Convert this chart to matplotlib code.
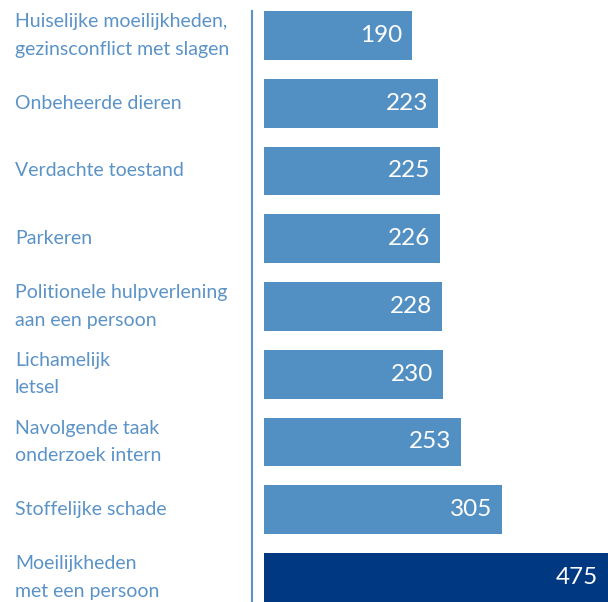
import matplotlib
matplotlib.use("Agg")
import matplotlib.pyplot as plt
from matplotlib.lines import Line2D

categories = [
    "Huiselijke moeilijkheden,\ngezinsconflict met slagen",
    "Onbeheerde dieren",
    "Verdachte toestand",
    "Parkeren",
    "Politionele hulpverlening\naan een persoon",
    "Lichamelijk\nletsel",
    "Navolgende taak\nonderzoek intern",
    "Stoffelijke schade",
    "Moeilijkheden\nmet een persoon",
]
values = [190, 223, 225, 226, 228, 230, 253, 305, 475]

LIGHT = "#528fc2"
DARK = "#003882"
TEXT = "#5b93c7"

W, H = 608, 602
fig = plt.figure(figsize=(W / 100, H / 100), dpi=100)
ax = fig.add_axes([264 / W, 0, 1 - 264 / W, 1])

xmax = 441
pos = list(range(len(values)))
colors = [LIGHT] * (len(values) - 1) + [DARK]
ax.barh(pos, values, height=0.72, color=colors)
ax.set_xlim(0, xmax)
ax.set_ylim(8.362, -0.524)
ax.axis("off")

for p, v, c in zip(pos, values, categories):
    ax.annotate(str(v), (min(v, xmax), p), xytext=(-7, 0), textcoords="offset points",
                ha="right", va="center", color="white", fontsize=17.5,
                family="Lato")
    ax.annotate(c, (15 / W, p), xycoords=("figure fraction", "data"),
                ha="left", va="center", color=TEXT, fontsize=14,
                family="Lato", linespacing=1.75)

fig.add_artist(Line2D([252 / W, 252 / W], [0, 1 - 11 / H], transform=fig.transFigure,
                      color=TEXT, lw=1.5))

fig.savefig("out.png", dpi=100)
